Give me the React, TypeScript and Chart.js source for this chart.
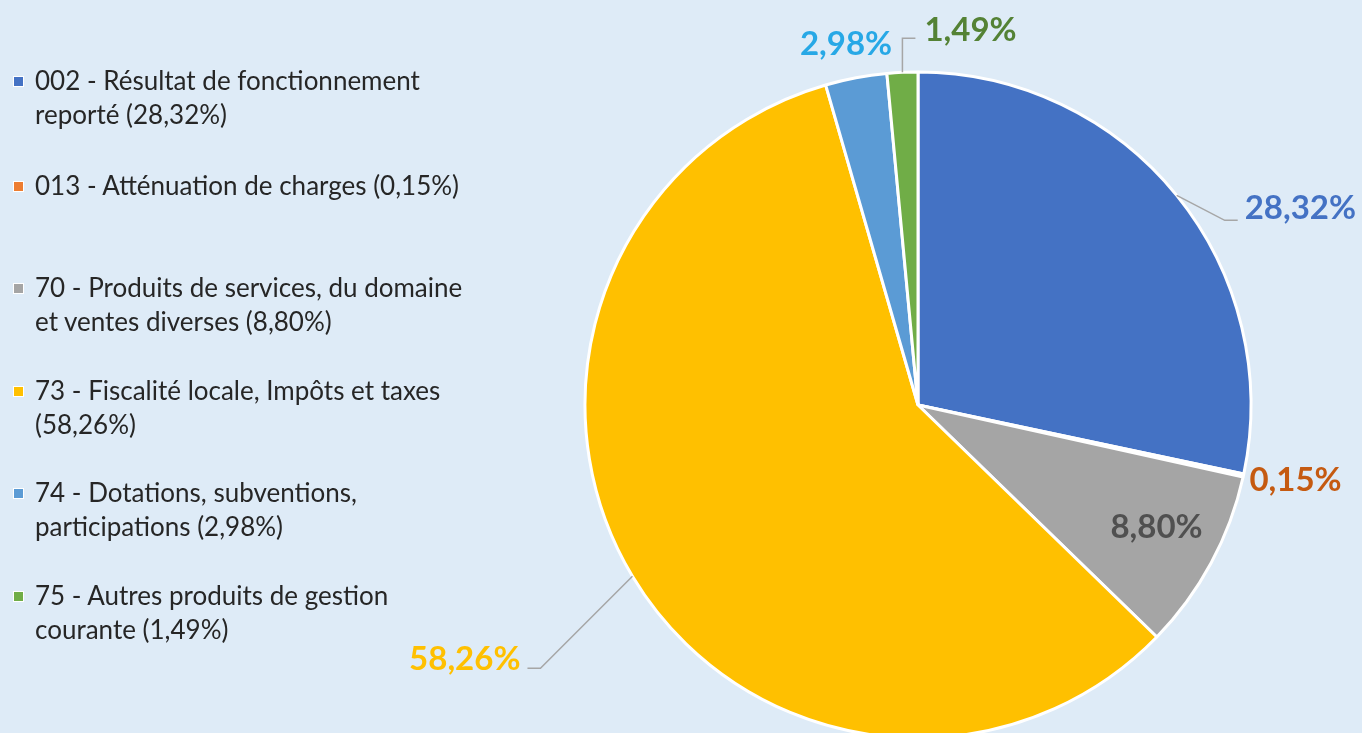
import React, { useEffect, useRef } from "react";
import { Chart, registerables } from "chart.js";

Chart.register(...registerables);

// ---- data ----
const categories = [
  "002 - Résultat de fonctionnement reporté",
  "013 - Atténuation de charges",
  "70 - Produits de services, du domaine et ventes diverses",
  "73 - Fiscalité locale, Impôts et taxes",
  "74 - Dotations, subventions, participations",
  "75 - Autres produits de gestion courante",
];
const shares = [28.32, 0.15, 8.8, 58.26, 2.98, 1.49];
const legendLines = [
  ["002 - Résultat de fonctionnement", "reporté"],
  ["013 - Atténuation de charges"],
  ["70 - Produits de services, du domaine", "et ventes diverses"],
  ["73 - Fiscalité locale, Impôts et taxes", ""],
  ["74 - Dotations, subventions,", "participations"],
  ["75 - Autres produits de gestion", "courante"],
];

// ---- styles ----
const sliceColors = ["#4472C4", "#ED7D31", "#A5A5A5", "#FFC000", "#5B9BD5", "#70AD47"];
const labelColors = ["#4472C4", "#C55A11", "#505050", "#FFC000", "#27A8E6", "#548235"];
const BG = "#DEEBF7";
const FONT = "Lato, 'Open Sans', sans-serif";

const fmt = (v: number) => v.toFixed(2).replace(".", ",") + "%";

// label placement relative to each slice's mid-angle point
type Place = {
  r: number; // radius factor for anchor
  leader?: [number, number]; // elbow offset from anchor
  tail?: number; // horizontal tail from elbow
  text: [number, number]; // text offset (from elbow if leader, else anchor)
  align: CanvasTextAlign;
};
const placements: Place[] = [
  { r: 1, leader: [48, 25], tail: 13, text: [20, -12], align: "left" },
  { r: 1, text: [6, 5], align: "left" },
  { r: 0.8, text: [4, -4], align: "center" },
  { r: 1, leader: [-92, 92], tail: -13, text: [-20, -9], align: "right" },
  { r: 1, text: [-10, -33], align: "center" },
  { r: 1, leader: [0, -34], tail: 13, text: [22, -8], align: "left" },
];

const labelPlugin = {
  id: "sliceLabels",
  afterDatasetsDraw(chart: any) {
    const ctx = chart.ctx as CanvasRenderingContext2D;
    const meta = chart.getDatasetMeta(0);
    meta.data.forEach((arc: any, i: number) => {
      const p = placements[i];
      const mid = (arc.startAngle + arc.endAngle) / 2;
      const ax = arc.x + Math.cos(mid) * arc.outerRadius * p.r;
      const ay = arc.y + Math.sin(mid) * arc.outerRadius * p.r;
      let bx = ax;
      let by = ay;
      ctx.save();
      if (p.leader) {
        bx = ax + p.leader[0];
        by = ay + p.leader[1];
        ctx.strokeStyle = "#A6A6A6";
        ctx.lineWidth = 1.5;
        ctx.beginPath();
        ctx.moveTo(ax, ay);
        ctx.lineTo(bx, by);
        ctx.lineTo(bx + (p.tail || 0), by);
        ctx.stroke();
      }
      ctx.font = `bold 33px ${FONT}`;
      ctx.fillStyle = labelColors[i];
      ctx.textAlign = p.align;
      ctx.textBaseline = "middle";
      ctx.fillText(fmt(shares[i]), bx + p.text[0], by + p.text[1]);
      ctx.restore();
    });
  },
};

const legendTops = [63, 168, 270, 373, 475, 578];

export default function App() {
  const ref = useRef<HTMLCanvasElement | null>(null);

  useEffect(() => {
    document.body.style.margin = "0";
    document.body.style.background = BG;
    if (!ref.current) return;
    const chart = new Chart(ref.current, {
      type: "pie",
      data: {
        labels: categories,
        datasets: [
          {
            data: shares,
            backgroundColor: sliceColors,
            borderColor: "#FFFFFF",
            borderWidth: 3,
            clip: false as any,
          } as any,
        ],
      },
      options: {
        animation: false,
        responsive: true,
        maintainAspectRatio: false,
        radius: 333,
        layout: { padding: { left: 474, top: 77, right: 0, bottom: 0 } },
        plugins: {
          legend: { display: false },
          tooltip: { enabled: false },
        },
      } as any,
      plugins: [labelPlugin],
    });
    return () => chart.destroy();
  }, []);

  return (
    <div
      style={{
        position: "relative",
        width: 1362,
        height: 733,
        overflow: "hidden",
        background: BG,
        fontFamily: FONT,
      }}
    >
      <canvas ref={ref} />
      {legendLines.map((lines, i) => (
        <div
          key={i}
          style={{
            position: "absolute",
            left: 0,
            top: legendTops[i],
            fontSize: 26,
            lineHeight: "34px",
            color: "#262626",
            whiteSpace: "nowrap",
          }}
        >
          <span
            style={{
              position: "absolute",
              left: 14,
              top: 14,
              width: 9,
              height: 9,
              background: sliceColors[i],
              outline: "1px solid #ffffff",
            }}
          />
          {lines.map((ln, j) => (
            <div key={j} style={{ paddingLeft: 35 }}>
              {j === lines.length - 1
                ? (ln ? ln + " " : "") + "(" + fmt(shares[i]) + ")"
                : ln}
            </div>
          ))}
        </div>
      ))}
    </div>
  );
}
